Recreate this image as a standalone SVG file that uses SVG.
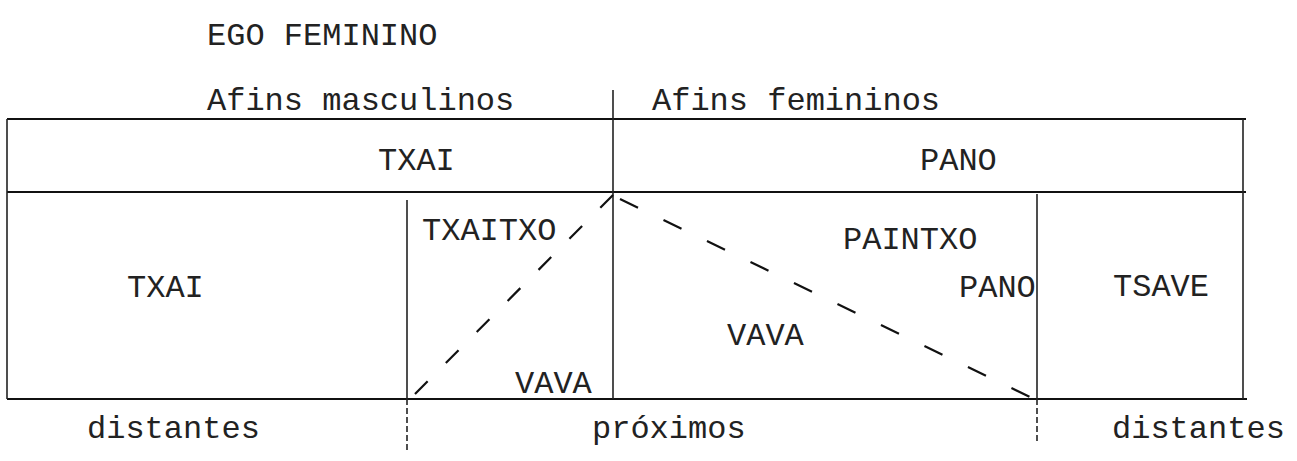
<svg xmlns="http://www.w3.org/2000/svg" width="1297" height="461" viewBox="0 0 1297 461">
<style>
text{font-family:"Liberation Mono","DejaVu Sans Mono",monospace;font-size:32px;fill:#222}
.ln{stroke:#111;stroke-width:2;fill:none}
.vl{stroke:#222;stroke-width:1.6;fill:none}
.dv{stroke:#222;stroke-width:1.6;fill:none;stroke-dasharray:6 3}
.dg{stroke:#111;stroke-width:2.2;fill:none}
</style>
<rect width="1297" height="461" fill="#fff"/>
<g id="headers">
<text x="207" y="45">EGO FEMININO</text>
<text x="207" y="110">Afins masculinos</text>
<text x="652" y="110">Afins femininos</text>
</g>
<g id="grid">
<line class="ln" x1="7" y1="119" x2="1246" y2="119"/>
<line class="ln" x1="7" y1="192" x2="1246" y2="192"/>
<line class="ln" x1="7" y1="399" x2="1247" y2="399"/>
<line class="vl" x1="7" y1="119" x2="7" y2="399"/>
<line class="vl" x1="1243" y1="119" x2="1243" y2="399"/>
<line class="vl" x1="613" y1="90" x2="613" y2="399"/>
<line class="vl" x1="407" y1="200" x2="407" y2="399"/>
<line class="dv" x1="407" y1="399" x2="407" y2="453"/>
<line class="vl" x1="1037" y1="194" x2="1037" y2="399"/>
<line class="dv" x1="1037" y1="399" x2="1037" y2="442"/>
</g>
<g id="connectors">
<line class="dg" stroke-dasharray="18 25.8" x1="613" y1="195" x2="415" y2="394"/>
<line class="dg" stroke-dasharray="20 28.3" x1="620" y1="199" x2="1030" y2="397"/>
</g>
<g id="top-txai"><text x="378" y="170">TXAI</text></g>
<g id="top-pano"><text x="920" y="170">PANO</text></g>
<g id="txai"><text x="127" y="297">TXAI</text></g>
<g id="txaitxo"><text x="422" y="240">TXAITXO</text></g>
<g id="vava-left"><text x="515" y="393">VAVA</text></g>
<g id="paintxo"><text x="843" y="249">PAINTXO</text></g>
<g id="pano"><text x="959" y="297">PANO</text></g>
<g id="vava-right"><text x="727" y="345">VAVA</text></g>
<g id="tsave"><text x="1113" y="296">TSAVE</text></g>
<g id="footer">
<text x="87" y="438">distantes</text>
<text x="592" y="438">próximos</text>
<text x="1112" y="438">distantes</text>
</g>
</svg>
